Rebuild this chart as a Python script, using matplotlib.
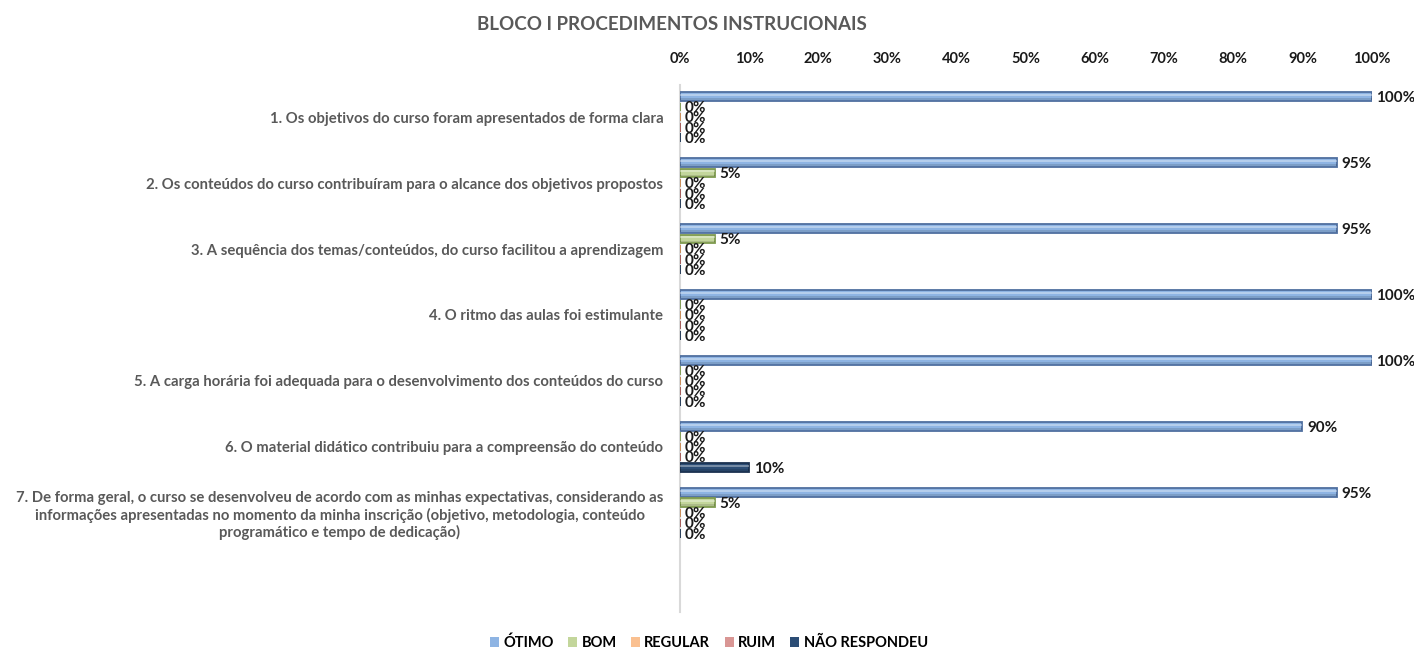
import numpy as np
import matplotlib.pyplot as plt
from matplotlib.patches import Patch

plt.rcParams['font.family'] = ['Lato', 'DejaVu Sans']

# ---- data ----
perguntas = [
    "1. Os objetivos do curso foram apresentados de forma clara",
    "2. Os conteúdos do curso contribuíram para o alcance dos objetivos propostos",
    "3. A sequência dos temas/conteúdos, do curso facilitou a aprendizagem",
    "4. O ritmo das aulas foi estimulante",
    "5. A carga horária foi adequada para o desenvolvimento dos conteúdos do curso",
    "6. O material didático contribuiu para a compreensão do conteúdo",
    "7. De forma geral, o curso se desenvolveu de acordo com as minhas expectativas, considerando as\n"
    "informações apresentadas no momento da minha inscrição (objetivo, metodologia, conteúdo\n"
    "programático e tempo de dedicação)",
]
series = ["ÓTIMO", "BOM", "REGULAR", "RUIM", "NÃO RESPONDEU"]
otimo    = [100, 95, 95, 100, 100, 90, 95]
bom      = [0, 5, 5, 0, 0, 0, 5]
regular  = [0, 0, 0, 0, 0, 0, 0]
ruim     = [0, 0, 0, 0, 0, 0, 0]
nao_resp = [0, 0, 0, 0, 0, 10, 0]
ticks = [0, 10, 20, 30, 40, 50, 60, 70, 80, 90, 100]

cores  = ['#8EB4E3', '#C3D69B', '#FAC090', '#D99694', '#2C4D75']
bordas = ['#4F6F9F', '#7E9A4E', '#C8884F', '#A0524F', '#1B3250']

fig = plt.figure(figsize=(14.14, 6.65), dpi=100)
ax = fig.add_axes([0.481, 0.080, 0.489, 0.792])

y = np.arange(len(perguntas))
passo = 0.155
altura = 0.13
valores = [otimo, bom, regular, ruim, nao_resp]
for k, (vals, cor, borda) in enumerate(zip(valores, cores, bordas)):
    pos = y + (k - 2) * passo
    ax.barh(pos, vals, height=altura, color=cor, edgecolor=borda, linewidth=1.3, zorder=3)
    # brilho e sombra (efeito cilindro)
    ax.barh(pos - altura * 0.2, vals, height=altura * 0.22, color='white', alpha=0.35,
            linewidth=0, zorder=4)
    ax.barh(pos + altura * 0.3, vals, height=altura * 0.2, color='black', alpha=0.12,
            linewidth=0, zorder=4)
    for p, v in zip(pos, vals):
        ax.text(v + 0.7, p + 0.02, f"{v}%", va='center', ha='left', fontsize=11,
                fontweight='bold', color='#1a1a1a', zorder=5)

ax.set_xlim(0, 100)
ax.set_ylim(6 + 1.5, -0.485)
ax.xaxis.tick_top()
ax.set_xticks(ticks)
ax.set_xticklabels([f"{t}%" for t in ticks], fontsize=10.5, fontweight='bold', color='#1a1a1a')
ax.tick_params(axis='x', length=0, pad=14)
ax.set_yticks(y)
ax.set_yticklabels(perguntas, fontsize=10.7, fontweight='bold', color='#595959',
                   multialignment='center')
ax.tick_params(axis='y', length=0, pad=12)
for s in ['top', 'right', 'bottom']:
    ax.spines[s].set_visible(False)
ax.spines['left'].set_color('#D9D9D9')
ax.spines['left'].set_linewidth(1.5)

fig.text(672 / 1414, 1 - 24 / 665, "BLOCO I PROCEDIMENTOS INSTRUCIONAIS", ha='center', va='center',
         fontsize=13.5, fontweight='bold', color='#595959')

handles = [Patch(facecolor=c, edgecolor='none') for c in cores]
fig.legend(handles, series, loc='center', bbox_to_anchor=(709 / 1414, 1 - 643 / 665), ncol=5,
           frameon=False, prop={'weight': 'bold', 'size': 10.5},
           handlelength=0.6, handleheight=0.6, columnspacing=1.0, handletextpad=0.3)

fig.savefig('out.png', dpi=100)
